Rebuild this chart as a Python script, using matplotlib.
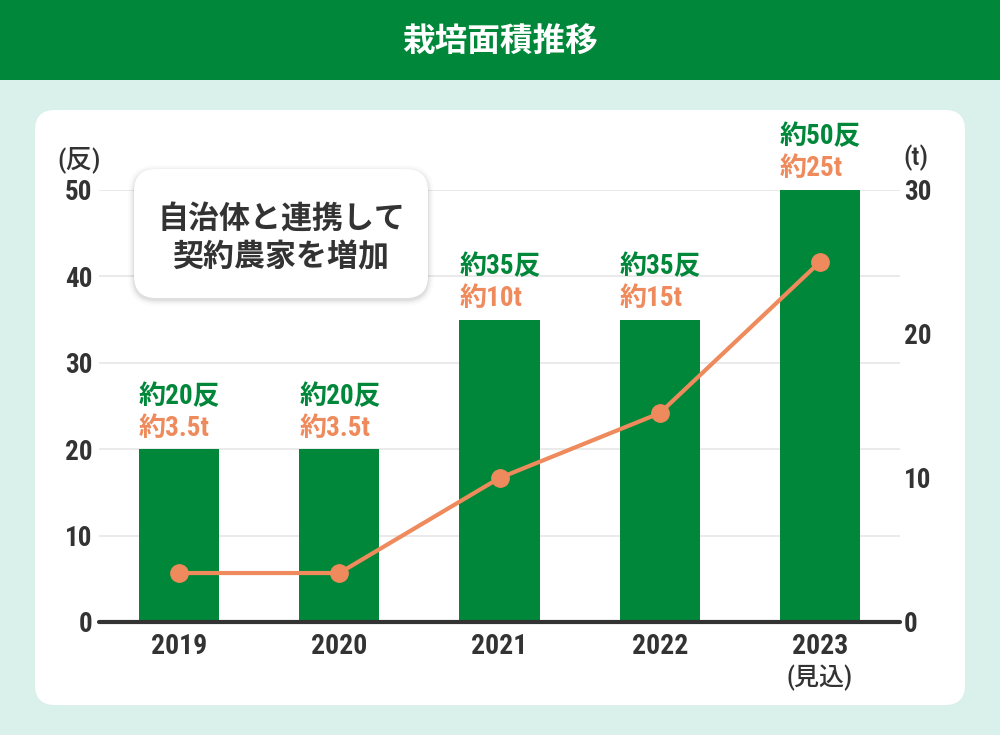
import matplotlib
matplotlib.use("Agg")
import matplotlib.pyplot as plt
from matplotlib import font_manager as fm
from matplotlib.patches import FancyBboxPatch, Rectangle
import numpy as np

# ---- data ----
years = ["2019", "2020", "2021", "2022", "2023"]
area_tan = [20, 20, 35, 35, 50]          # bars (反)
harvest_t = [3.4, 3.4, 10, 14.5, 25]     # line (t)
area_labels = ["約20反", "約20反", "約35反", "約35反", "約50反"]
harvest_labels = ["約3.5t", "約3.5t", "約10t", "約15t", "約25t"]
left_ticks = [0, 10, 20, 30, 40, 50]
right_ticks = [0, 10, 20, 30]
title = "栽培面積推移"
callout = "自治体と連携して\n契約農家を増加"

# ---- fonts ----
ttf = fm.fontManager.ttflist
names = {f.name for f in ttf}
JP = "Noto Sans CJK JP"
num_stretch = "normal"
NUM = None
for cand in ["Roboto Condensed", "Open Sans Condensed", "Liberation Sans Narrow",
             "DejaVu Sans Condensed"]:
    if cand in names:
        NUM = cand
        break
if NUM is None:
    if any(f.name == "Roboto" and f.stretch in ("condensed", 75, "semi-condensed") for f in ttf):
        NUM, num_stretch = "Roboto", "condensed"
    elif any(f.name == "DejaVu Sans" and f.stretch in ("condensed", 75) for f in ttf):
        NUM, num_stretch = "DejaVu Sans", "condensed"
    else:
        NUM = "Roboto"
FAM = [NUM, JP]
plt.rcParams["font.family"] = FAM

GREEN = "#00873A"
ORANGE = "#EE8A5B"
MINT = "#D9F0EB"
DARK = "#333333"
GRID = "#E6E6E6"

W, H = 1000, 735
fig = plt.figure(figsize=(W / 100, H / 100), dpi=100, facecolor=MINT)


def fx(x):
    return x / W


def fy(y):
    return 1 - y / H


def rbox(x0, y0, x1, y1, r, **kw):
    return FancyBboxPatch((fx(x0 + r), fy(y1 - r)), (x1 - x0 - 2 * r) / W,
                          (y1 - y0 - 2 * r) / H,
                          boxstyle=f"round,pad={r / W},rounding_size={r / W}",
                          mutation_aspect=W / H, transform=fig.transFigure,
                          edgecolor="none", **kw)


# header band
fig.patches.append(Rectangle((0, fy(80)), 1, 80 / H, transform=fig.transFigure,
                             facecolor=GREEN, edgecolor="none", zorder=-2))
fig.text(0.5, fy(42), title, color="white", fontsize=23.5, fontweight="bold",
         family=[JP], ha="center", va="center")

# white panel
fig.patches.append(rbox(35, 110, 965, 705, 20, facecolor="white", zorder=-2))

# axes
ax = fig.add_axes([fx(99), fy(622), (900 - 99) / W, (622 - 190) / H])
ax.set_facecolor("none")
x = np.arange(len(years))
ax.bar(x, area_tan, width=0.5, color=GREEN, zorder=2)
ax.set_xlim(-0.5, 4.5)
ax.set_ylim(0, 50)
ax.set_yticks(left_ticks)
ax.grid(axis="y", color=GRID, linewidth=1.2, zorder=0)
ax.set_axisbelow(True)
for s in ax.spines.values():
    s.set_visible(False)
ax.axhline(0, color=DARK, linewidth=3, solid_capstyle="round", zorder=5, clip_on=False)
ax.tick_params(axis="both", length=0, colors=DARK)
ax.set_yticklabels([str(t) for t in left_ticks], fontsize=19.5, fontweight="bold",
                   fontstretch=num_stretch, color=DARK)
ax.tick_params(axis="y", pad=5)
ax.set_xticks(x)
ax.set_xticklabels(years, fontsize=20, fontweight="bold", fontstretch=num_stretch, color=DARK)
ax.tick_params(axis="x", pad=8)
ax.text(4, -0.13, "(見込)", transform=ax.get_xaxis_transform(), ha="center", va="center",
        fontsize=18, fontweight="medium", color=DARK)

ax2 = ax.twinx()
ax2.set_ylim(0, 30)
ax2.set_yticks(right_ticks)
ax2.set_yticklabels([str(t) for t in right_ticks], fontsize=19.5, fontweight="bold",
                    fontstretch=num_stretch, color=DARK)
ax2.tick_params(axis="y", length=0, pad=3)
for s in ax2.spines.values():
    s.set_visible(False)
ax2.plot(x, harvest_t, color=ORANGE, linewidth=3, marker="o", markersize=12.5,
         zorder=6, clip_on=False)

# bar labels
for i in range(len(years)):
    ax.annotate(area_labels[i], (i - 0.25, area_tan[i]), xytext=(0, 53),
                textcoords="offset pixels", ha="left", va="center", fontsize=19.5,
                fontweight="bold", color=GREEN, annotation_clip=False)
    ax.annotate(harvest_labels[i], (i - 0.25, area_tan[i]), xytext=(0, 21),
                textcoords="offset pixels", ha="left", va="center", fontsize=19.5,
                fontweight="bold", color=ORANGE, annotation_clip=False)

# unit labels
fig.text(fx(57), fy(160), "(反)", fontsize=19, fontweight="medium", color=DARK,
         ha="left", va="center")
fig.text(fx(903), fy(158), "(t)", fontsize=19, fontweight="medium", color=DARK,
         ha="left", va="center")

# callout box with soft shadow
bx0, by0, bx1, by1 = 134, 169, 428, 298
for grow, alpha in [(6, 0.015), (4, 0.025), (2.5, 0.035), (1, 0.05)]:
    fig.patches.append(rbox(bx0 - grow, by0 - grow + 2, bx1 + grow, by1 + grow + 2,
                            22 + grow, facecolor="black", alpha=alpha, zorder=8))
fig.patches.append(rbox(bx0, by0, bx1, by1, 22, facecolor="white", zorder=9))
fig.text(fx(281), fy(238), callout, fontsize=22.3, fontweight="bold", color=DARK,
         family=[JP], ha="center", va="center", linespacing=1.25, zorder=10)

fig.savefig("out.png", dpi=100, facecolor=MINT)
